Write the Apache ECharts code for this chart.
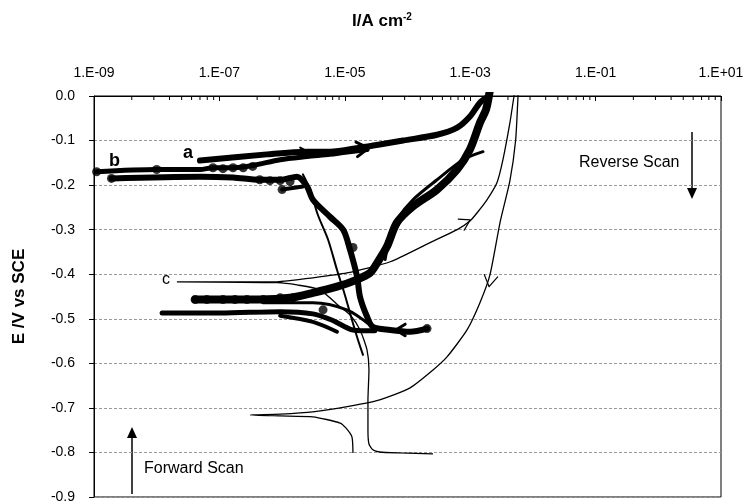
<!DOCTYPE html>
<html><head><meta charset="utf-8">
<script src="https://cdn.jsdelivr.net/npm/echarts@6/dist/echarts.min.js"></script>
<style>html,body{margin:0;padding:0;background:#fff}#c{width:750px;height:504px}</style>
</head><body><div id="c"></div>
<script>
// ---- axis settings ----
const xMin = 1e-9, xMax = 10;
const yMin = -0.9, yMax = 0;
const minorTickFactors = [4, 9, 16, 25, 36, 49, 64, 81];
const majorDecades = [1e-9, 1e-7, 1e-5, 1e-3, 1e-1];

// ---- thick curves ----
const aI = [4.9e-8, 5.7e-7, 2.5e-6, 5.8e-6, 1.75e-5, 3.6e-5, 8.5e-5, 2.96e-4, 6.2e-4, 9.9e-4, 1.43e-3, 1.92e-3, 2.07e-3];
const aE = [-0.145, -0.131, -0.125, -0.125, -0.116, -0.109, -0.100, -0.087, -0.071, -0.046, -0.015, 0.0, 0.015];

const bUpI = [1.1e-9, 1.0e-8, 4.9e-8, 7.9e-8, 1.65e-7, 3.4e-7, 9.3e-7, 2.5e-6, 5.8e-6, 9.4e-6, 2.26e-5];
const bUpE = [-0.170, -0.165, -0.165, -0.161, -0.161, -0.156, -0.143, -0.136, -0.131, -0.127, -0.120];

const bLowI = [1.9e-9, 4.9e-8, 1.65e-7, 4.4e-7, 9.3e-7, 1.73e-6, 2.5e-6, 3.1e-6, 5.8e-6, 9.4e-6, 1.21e-5, 1.57e-5, 1.75e-5, 2.26e-5, 2.8e-5, 5.3e-5, 1.1e-4, 2.05e-4];
const bLowE = [-0.185, -0.181, -0.183, -0.188, -0.188, -0.181, -0.203, -0.233, -0.271, -0.300, -0.345, -0.406, -0.451, -0.495, -0.518, -0.525, -0.529, -0.522];

const loopI = [2.07e-3, 1.79e-3, 1.43e-3, 9.9e-4, 6.2e-4, 2.96e-4, 1.22e-4, 6.8e-5, 4.7e-5, 3.3e-5, 2.52e-5, 1.57e-5, 7.5e-6, 3.1e-6, 1.34e-6, 4.4e-7, 1.14e-7, 4.1e-8];
const loopE = [0.015, -0.030, -0.060, -0.120, -0.165, -0.210, -0.248, -0.284, -0.338, -0.374, -0.397, -0.412, -0.428, -0.442, -0.453, -0.457, -0.457, -0.457];

const branchI = [4.4e-5, 5.3e-5, 6.8e-5, 1.22e-4, 2.96e-4, 7.7e-4, 1.6e-3];
const branchE = [-0.367, -0.311, -0.277, -0.233, -0.188, -0.143, -0.125];

const lowI = [1.22e-8, 1.02e-7, 9.3e-7, 3.1e-6, 6.5e-6, 1.35e-5, 3.0e-5];
const lowE = [-0.487, -0.487, -0.484, -0.489, -0.504, -0.525, -0.527];

const low2I = [9.3e-7, 3.1e-6, 7.5e-6];
const low2E = [-0.493, -0.507, -0.529];

const low3I = [5.0e-7, 3.1e-6, 1.08e-5, 2.52e-5];
const low3E = [-0.464, -0.464, -0.480, -0.514];

const midI = [2.15e-6, 2.8e-6, 3.7e-6, 5.4e-6, 7.5e-6, 1.0e-5, 1.3e-5, 1.62e-5, 1.95e-5];
const midE = [-0.176, -0.210, -0.266, -0.322, -0.390, -0.446, -0.502, -0.547, -0.581];

const stubI = [1.0e-6, 2.15e-6];
const stubE = [-0.210, -0.203];

// ---- thin curves ----
const cI = [2.55e-4, 7.6e-5, 3.6e-5, 2.8e-5, 2.43e-5, 2.34e-5, 2.34e-5, 2.43e-5, 2.26e-5, 1.75e-5, 1.21e-5, 8.4e-6, 4.0e-6, 1.73e-6, 8.3e-7, 2.1e-8,
            8.3e-7, 3.1e-6, 1.08e-5, 5.3e-5, 2.29e-4, 6.2e-4, 1.0e-3, 1.29e-3, 1.85e-3, 2.68e-3, 3.33e-3, 4.3e-3, 5.0e-3, 5.4e-3];
const cE = [-0.803, -0.801, -0.799, -0.794, -0.781, -0.750, -0.682, -0.615, -0.570, -0.525, -0.491, -0.473, -0.435, -0.424, -0.419, -0.417,
            -0.417, -0.408, -0.397, -0.372, -0.329, -0.300, -0.280, -0.262, -0.233, -0.194, -0.143, -0.060, 0.0, 0.025];

const dI = [1.35e-5, 1.30e-5, 1.04e-5, 8.4e-6, 3.1e-6, 9.3e-7, 3.1e-7, 9.3e-7, 3.1e-6, 1.21e-5, 3.6e-5, 1.1e-4, 2.55e-4, 4.3e-4, 8.9e-4, 1.43e-3, 2.07e-3, 2.99e-3, 4.3e-3, 5.3e-3, 5.8e-3, 6.0e-3];
const dE = [-0.801, -0.765, -0.745, -0.734, -0.720, -0.718, -0.716, -0.714, -0.709, -0.696, -0.682, -0.655, -0.615, -0.585, -0.525, -0.464, -0.401, -0.284, -0.190, -0.100, 0.0, 0.025];

// ---- dots ----
const dotI = [1.1e-9, 1.9e-9, 1.0e-8, 7.9e-8, 1.14e-7, 1.65e-7, 2.4e-7, 3.4e-7, 4.4e-7, 6.4e-7, 9.3e-7, 1.34e-6, 1.0e-6,
              4.1e-8, 6.3e-8, 1.14e-7, 1.77e-7, 2.75e-7, 5.0e-7, 9.3e-7, 1.5e-6, 1.35e-5, 4.5e-6, 2.05e-4];
const dotE = [-0.170, -0.185, -0.165, -0.161, -0.163, -0.161, -0.161, -0.158, -0.188, -0.190, -0.190, -0.192, -0.210,
              -0.457, -0.457, -0.457, -0.457, -0.457, -0.457, -0.453, -0.453, -0.340, -0.480, -0.522];

// ---- arrowheads on curves: I, E, direction (deg, screen), size, width ----
const arrowI = [2.4e-5, 2.6e-6, 6.5e-5, 1.0e-3, 2.0e-3];
const arrowE = [-0.117, -0.125, -0.525, -0.278, -0.428];
const arrowDir = [-6, -4, 180, -28, 100];
const arrowSize = [14, 9, 11, 12, 13];
const arrowWidth = [3, 2, 3, 1.2, 1.2];

function zip(a, b) { return a.map((v, i) => [v, b[i]]); }

const chart = echarts.init(document.getElementById('c'), null, { renderer: 'canvas' });
const FONT = 'Liberation Sans, Arial, sans-serif';

function thick(name, I, E, w, smooth) {
  return { name, type: 'line', data: zip(I, E), showSymbol: false, smooth: smooth == null ? 0.3 : smooth,
    lineStyle: { color: '#000', width: w, cap: 'round', join: 'round' }, silent: true, z: 3 };
}

const minorData = [];
majorDecades.forEach(d => minorTickFactors.forEach(f => minorData.push([d * f, 0])));

chart.setOption({
  animation: false,
  backgroundColor: '#fff',
  grid: { left: 94, right: 29, top: 96, bottom: 7, show: true, borderColor: '#000', borderWidth: 1 },
  xAxis: {
    type: 'log', logBase: 10, min: xMin, max: xMax, interval: 2, position: 'top',
    axisLine: { show: true, lineStyle: { color: '#000', width: 1 } },
    axisTick: { show: true, inside: true, length: 5, lineStyle: { color: '#000' } },
    splitLine: { show: false },
    axisLabel: { fontFamily: FONT, fontSize: 14, color: '#000', margin: 16,
      formatter: v => { const e = Math.round(Math.log10(v)); const s = e < 0 ? '-' : '+'; const a = Math.abs(e); return '1.E' + s + (a < 10 ? '0' : '') + a; } }
  },
  yAxis: {
    type: 'value', min: yMin, max: yMax, interval: 0.1,
    name: 'E /V vs SCE', nameLocation: 'middle', nameGap: 66, nameRotate: 90,
    nameTextStyle: { fontFamily: FONT, fontWeight: 'bold', fontSize: 17, color: '#000' },
    axisLine: { show: true, lineStyle: { color: '#000', width: 1 } },
    axisTick: { show: true, inside: false, length: 5, lineStyle: { color: '#000' } },
    splitLine: { show: true, lineStyle: { color: '#999', type: [3, 2], width: 1 } },
    axisLabel: { fontFamily: FONT, fontSize: 14, color: '#000', margin: 19, formatter: v => (Math.abs(v) < 1e-9 ? '0.0' : v.toFixed(1)) }
  },
  series: [
    { type: 'custom', coordinateSystem: 'cartesian2d', data: minorData, silent: true, z: 5,
      renderItem: (params, api) => { const p = api.coord([api.value(0), 0]);
        return { type: 'line', shape: { x1: p[0], y1: p[1], x2: p[0], y2: p[1] + 4 }, style: { stroke: '#000', lineWidth: 1 } }; } },
    { name: 'c', type: 'line', data: zip(cI, cE), showSymbol: false, smooth: 0.2, silent: true,
      lineStyle: { color: '#000', width: 1.3 }, z: 2 },
    { name: 'd', type: 'line', data: zip(dI, dE), showSymbol: false, smooth: 0.2, silent: true,
      lineStyle: { color: '#000', width: 1.3 }, z: 2 },
    thick('a', aI, aE, 6),
    thick('bUp', bUpI, bUpE, 5),
    thick('bLow', bLowI, bLowE, 6),
    thick('loop', loopI, loopE, 8),
    thick('branch', branchI, branchE, 3),
    thick('low', lowI, lowE, 5),
    thick('low2', low2I, low2E, 4),
    thick('low3', low3I, low3E, 3),
    thick('mid', midI, midE, 2),
    thick('stub', stubI, stubE, 4),
    { name: 'dots', type: 'scatter', data: zip(dotI, dotE), symbol: 'circle', symbolSize: 9, silent: true,
      itemStyle: { color: '#000' }, z: 4 },
    { type: 'custom', coordinateSystem: 'cartesian2d', silent: true, z: 6,
      data: arrowI.map((v, i) => [v, arrowE[i], arrowDir[i], arrowSize[i], arrowWidth[i]]),
      renderItem: (params, api) => {
        const p = api.coord([api.value(0), api.value(1)]);
        const ang = api.value(2) * Math.PI / 180, s = api.value(3), w = api.value(4);
        const a1 = ang + Math.PI - 0.55, a2 = ang + Math.PI + 0.55;
        return { type: 'polyline', shape: { points: [[p[0] + s * Math.cos(a1), p[1] + s * Math.sin(a1)], p, [p[0] + s * Math.cos(a2), p[1] + s * Math.sin(a2)]] },
                 style: { stroke: '#000', lineWidth: w, fill: null, lineCap: 'round', lineJoin: 'round' } };
      } }
  ],
  graphic: [
    { type: 'text', left: 352, top: 12, style: { rich: { b: { font: 'bold 17px ' + FONT, fill: '#000' }, s: { font: 'bold 10px ' + FONT, fill: '#000', verticalAlign: 'top', padding: [0, 0, 9, 0] } },
        text: '{b|I/A cm}{s|-2}', fill: '#000' } },
    { type: 'text', left: 183, top: 144, style: { text: 'a', font: 'bold 18px ' + FONT, fill: '#000' } },
    { type: 'text', left: 109, top: 152, style: { text: 'b', font: 'bold 18px ' + FONT, fill: '#000' } },
    { type: 'text', left: 162, top: 272, style: { text: 'c', font: '16px ' + FONT, fill: '#000' } },
    { type: 'text', left: 579, top: 155, style: { text: 'Reverse Scan', font: '16px ' + FONT, fill: '#000' } },
    { type: 'text', left: 144, top: 461, style: { text: 'Forward Scan', font: '16px ' + FONT, fill: '#000' } },
    { type: 'line', shape: { x1: 692, y1: 132, x2: 692, y2: 190 }, style: { stroke: '#000', lineWidth: 1.5 } },
    { type: 'polygon', shape: { points: [[687, 188], [697, 188], [692, 199]] }, style: { fill: '#000' } },
    { type: 'line', shape: { x1: 132, y1: 494, x2: 132, y2: 436 }, style: { stroke: '#000', lineWidth: 1.5 } },
    { type: 'polygon', shape: { points: [[127, 438], [137, 438], [132, 427]] }, style: { fill: '#000' } }
  ]
});
</script>
</body></html>
